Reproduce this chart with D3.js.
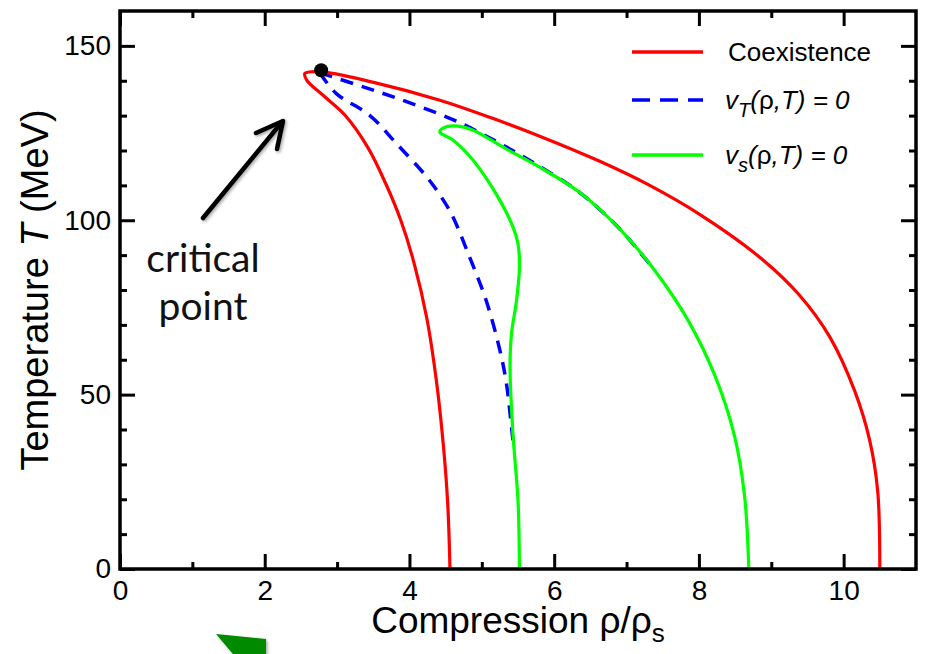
<!DOCTYPE html>
<html>
<head>
<meta charset="utf-8">
<script src="https://cdn.jsdelivr.net/npm/d3@7"></script>
<style>
  body { margin: 0; background: #fff; }
  svg { display: block; }
  .tick text { font-family: "Liberation Sans", Arial, sans-serif; }
</style>
</head>
<body>
<svg id="chart"></svg>
<script>
var svg_width = 930;
var svg_height = 654;
var margin = {top: 11, right: 14, bottom: 85, left: 120};

// tick values
var x_major = [0, 2, 4, 6, 8, 10];
var x_minor = [1, 3, 5, 7, 9];
var y_major = [0, 50, 100, 150];
var y_minor = [10, 20, 30, 40, 60, 70, 80, 90, 110, 120, 130, 140];

// [rho/rho_s, T in MeV]
var coexistence = [[4.56,0],[4.53,18.2],[4.475,34],[4.38,52.7],[4.24,71.9],[4.06,88],[3.88,100],[3.67,110.6],
  [3.43,120.7],[3.11,130.1],[2.83,135.4],[2.58,140.2],[2.555,142.1],[2.76,142.6],[3.49,139.6],[4.42,134.4],
  [5.11,129.5],[5.8,124.1],[6.63,116.9],[7.32,110],[8.01,101.7],[8.84,89.4],[9.39,78.5],[9.81,66.5],
  [10.15,51.2],[10.36,36.9],[10.47,22.5],[10.5,0]];
var vT_inner = [[2.76,142.3],[2.99,136.3],[3.45,130.1],[3.82,122],[4.24,112.4],[4.47,105.7],[4.6,101],
  [4.83,89.5],[5.06,77],[5.25,62.7],[5.34,53.2],[5.41,40.7],[5.44,35]];
var vT_outer = [[2.76,142.3],[3.5,137.3],[3.96,134],[4.65,128.4],[5.34,121],[5.8,115.4],[6.35,108],
  [6.91,97.4],[7.39,85.6]];
var vs_curve = [[5.52,0],[5.5,19.7],[5.43,38.8],[5.39,57.9],[5.41,67.5],[5.48,77],[5.52,86.6],[5.5,93.3],
  [5.43,98.1],[5.25,105.7],[4.88,117.2],[4.6,123],[4.42,125.3],[4.47,126.5],[4.67,127],[4.88,125.8],
  [5.34,120.4],[5.8,115.2],[6.35,108],[6.91,97.4],[7.39,85.6],[7.85,71.3],[8.22,55.5],[8.49,38.3],
  [8.63,21.1],[8.69,0]];
var critical_point = [2.78, 143];

var legend_labels = ["Coexistence", "vT", "vs"];

var svg = d3.select('#chart')
  .attr('width', svg_width)
  .attr('height', svg_height);

var defs = svg.append('defs');
defs.append('filter').attr('id', 'shadow')
  .attr('x', '-20%').attr('y', '-20%').attr('width', '140%').attr('height', '140%')
  .append('feDropShadow')
  .attr('dx', 1.5).attr('dy', 1.5).attr('stdDeviation', 1.5)
  .attr('flood-color', '#000').attr('flood-opacity', 0.35);

var xScale = d3.scaleLinear().domain([0, 11]).range([margin.left, svg_width - margin.right]);
var yScale = d3.scaleLinear().domain([0, 160]).range([svg_height - margin.bottom, margin.top]);

var x0 = xScale.range()[0], x1 = xScale.range()[1];
var y0 = yScale.range()[0], y1 = yScale.range()[1];

//curves
var line = d3.line()
  .x(function(d) {return(xScale(d[0]));})
  .y(function(d) {return(yScale(d[1]));})
  .curve(d3.curveCatmullRom.alpha(0.5));

var plot = svg.append('g');

plot.append('path').datum(vT_inner)
  .attr('d', line).attr('fill', 'none')
  .attr('stroke', '#0000ff').attr('stroke-width', 3.5)
  .attr('stroke-dasharray', '13,9');
plot.append('path').datum(vT_outer)
  .attr('d', line).attr('fill', 'none')
  .attr('stroke', '#0000ff').attr('stroke-width', 3.5)
  .attr('stroke-dasharray', '13,9');
plot.append('path').datum(vs_curve)
  .attr('d', line).attr('fill', 'none')
  .attr('stroke', '#00ff00').attr('stroke-width', 3.2);
plot.append('path').datum(coexistence)
  .attr('d', line).attr('fill', 'none')
  .attr('stroke', '#ff0000').attr('stroke-width', 3.2)
  .attr('stroke-linejoin', 'miter');

plot.append('circle')
  .attr('cx', xScale(critical_point[0]))
  .attr('cy', yScale(critical_point[1]))
  .attr('r', 7)
  .attr('fill', '#000');

// axes, ticks pointing inward
function draw_axis(axis_fn, scale, values, size, transform, labels)  {
  var g = svg.append('g')
    .attr('transform', transform)
    .call(axis_fn(scale).tickValues(values).tickSize(-size).tickSizeOuter(0)
      .tickPadding(labels ? 14 : 0)
      .tickFormat(labels ? d3.format('d') : ''));
  g.select('.domain').remove();
  g.selectAll('.tick line').attr('stroke', '#000').attr('stroke-width', 3);
  g.selectAll('.tick text').attr('font-size', 28).attr('fill', '#000');
  return(g);
}

var xAxisG = draw_axis(d3.axisBottom, xScale, x_major, 15, 'translate(0,' + y0 + ')', true);
xAxisG.selectAll('.tick text').attr('y', 11);
draw_axis(d3.axisBottom, xScale, x_minor, 7, 'translate(0,' + y0 + ')', false);
draw_axis(d3.axisTop, xScale, x_major, 15, 'translate(0,' + y1 + ')', false);
draw_axis(d3.axisTop, xScale, x_minor, 7, 'translate(0,' + y1 + ')', false);
var yAxisG = draw_axis(d3.axisLeft, yScale, y_major, 15, 'translate(' + x0 + ',0)', true);
yAxisG.selectAll('.tick text').attr('x', -9);
draw_axis(d3.axisLeft, yScale, y_minor, 7, 'translate(' + x0 + ',0)', false);
draw_axis(d3.axisRight, yScale, y_major, 15, 'translate(' + x1 + ',0)', false);
draw_axis(d3.axisRight, yScale, y_minor, 7, 'translate(' + x1 + ',0)', false);

svg.append('rect')
  .attr('x', x0).attr('y', y1)
  .attr('width', x1 - x0).attr('height', y0 - y1)
  .attr('fill', 'none').attr('stroke', '#000').attr('stroke-width', 3.5);

// axis titles
var xt = svg.append('text')
  .attr('x', (x0 + x1) / 2).attr('y', 633)
  .attr('text-anchor', 'middle')
  .attr('font-family', '"Liberation Sans", Arial, sans-serif')
  .attr('font-size', 37);
xt.append('tspan').text('Compression ρ/ρ');
xt.append('tspan').attr('font-size', 26).attr('dy', 9).text('s');

var yt = svg.append('text')
  .attr('transform', 'translate(48,' + ((y0 + y1) / 2) + ') rotate(-90)')
  .attr('text-anchor', 'middle')
  .attr('font-family', '"Liberation Sans", Arial, sans-serif')
  .attr('font-size', 38);
yt.append('tspan').text('Temperature ');
yt.append('tspan').attr('font-style', 'italic').text('T');
yt.append('tspan').text(' (MeV)');

// legend
var legend = svg.append('g')
  .attr('font-family', '"Liberation Sans", Arial, sans-serif')
  .attr('font-size', 26);
var legend_rows = [
  {label: legend_labels[0], color: '#ff0000', dash: null, y: 52},
  {label: legend_labels[1], color: '#0000ff', dash: '18,10', y: 100},
  {label: legend_labels[2], color: '#00ff00', dash: null, y: 155}
];
legend.selectAll('line').data(legend_rows).enter().append('line')
  .attr('x1', 632).attr('x2', 703)
  .attr('y1', function(d) {return(d.y);}).attr('y2', function(d) {return(d.y);})
  .attr('stroke', function(d) {return(d.color);})
  .attr('stroke-width', 3.5)
  .attr('stroke-dasharray', function(d) {return(d.dash);});
legend.append('text').attr('x', 728).attr('y', 61).text(legend_rows[0].label);
legend_rows.slice(1).forEach(function(r)  {
  var t = legend.append('text').attr('x', 725).attr('y', r.y + 9);
  t.append('tspan').attr('font-style', 'italic').text('v');
  t.append('tspan').attr('font-style', 'italic').attr('font-size', 20).attr('dy', 8)
    .text(r.label == 'vT' ? 'T' : 's');
  t.append('tspan').attr('font-style', 'italic').attr('dy', -8).text('(');
  t.append('tspan').text('ρ');
  t.append('tspan').attr('font-style', 'italic').text(',T) = 0');
});

// annotation
var ann = svg.append('g').attr('font-family', 'Lato, "Open Sans", sans-serif')
  .attr('font-size', 39).attr('text-anchor', 'middle').attr('fill', '#111');
ann.append('text').attr('x', 203).attr('y', 272).text('critical');
ann.append('text').attr('x', 203).attr('y', 320).text('point');

var arrow = svg.append('g').attr('filter', 'url(#shadow)')
  .attr('stroke', '#000').attr('stroke-width', 4.5).attr('fill', 'none')
  .attr('stroke-linecap', 'round').attr('stroke-linejoin', 'round');
arrow.append('line').attr('x1', 203).attr('y1', 218).attr('x2', 282).attr('y2', 122);
arrow.append('polyline').attr('points', '256,133 283,121 277,149');

// green pointer fragment at the bottom edge
svg.append('polygon')
  .attr('points', '216,634 266,639 266,660 238,660')
  .attr('fill', '#008a00')
  .attr('filter', 'url(#shadow)');
</script>
</body>
</html>
